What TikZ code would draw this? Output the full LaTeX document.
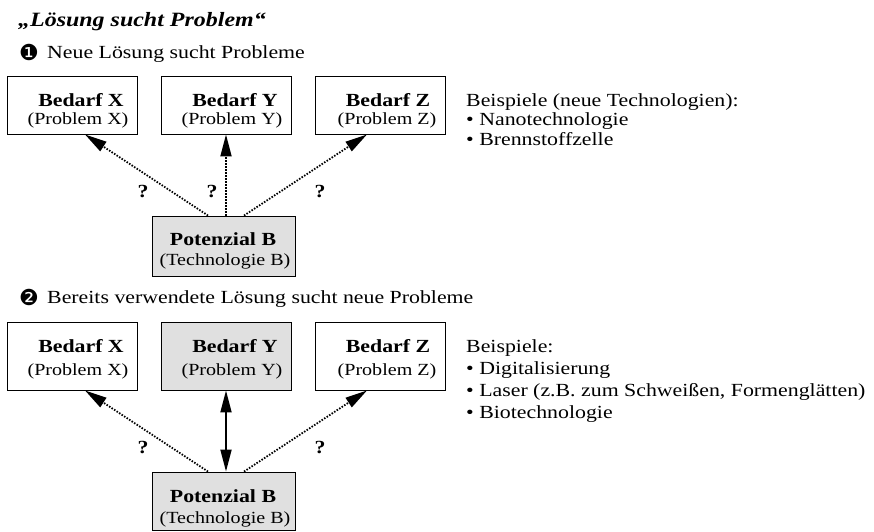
\documentclass[tikz,border=0pt]{standalone}
\usepackage{fontspec}
\setmainfont{Liberation Serif}[FakeStretch=1.18]
\newfontfamily\dingfont{DejaVu Sans}
\usetikzlibrary{arrows.meta,calc}
\definecolor{boxgray}{RGB}{224,224,224}
\newcommand\mybody{\fontsize{18.5pt}{20pt}\selectfont}
\newcommand\mysmall{\fontsize{17pt}{18pt}\selectfont}
\newcommand\mytitle{\fontsize{20.3pt}{22pt}\selectfont}
\tikzset{
  box/.style={draw=black, line width=0.9pt, minimum width=130pt, minimum height=58pt, inner sep=0pt},
  potbox/.style={box, fill=boxgray, minimum width=143pt, minimum height=60pt},
  txt/.style={inner sep=0pt, anchor=base, font=\mybody},
  btxt/.style={txt, font=\mybody\bfseries},
  stxt/.style={txt, font=\mysmall},
  ltxt/.style={txt, anchor=base west},
  qmark/.style={inner sep=0pt, anchor=center, font=\mybody\bfseries},
  num/.style={inner sep=0pt, anchor=center, font=\dingfont\fontsize{22pt}{22pt}\selectfont},
  tip/.tip={Triangle[length=22pt,width=11pt]},
  dotarrow/.style={line width=1.8pt, dash pattern=on 1.5pt off 1.5pt, -tip},
  solidarrow/.style={line width=1.8pt, tip-tip}
}
\begin{document}
\begin{tikzpicture}[x=1pt,y=-1pt]
\fill[white] (0,0) rectangle (874,531);
\useasboundingbox (0,0) rectangle (874,531);

% heading
\node[ltxt, font=\mytitle\bfseries\itshape] (title) at (18,26) {„Lösung sucht Problem“};

% ---- part 1: new solution looks for problems
\node[num] (n1) at (29,52) {❶};
\node[ltxt] (h1) at (47,58) {Neue Lösung sucht Probleme};

\node[box] (bx1) at (72,105) {};
\node[box] (bx2) at (226,105) {};
\node[box] (bx3) at (380,105) {};
\node[btxt] (bx1a) at (81,106) {Bedarf X};
\node[stxt] (bx1b) at (78,124.5) {(Problem X)};
\node[btxt] (bx2a) at (235,106) {Bedarf Y};
\node[stxt] (bx2b) at (232,124.5) {(Problem Y)};
\node[btxt] (bx3a) at (388,106) {Bedarf Z};
\node[stxt] (bx3b) at (387,124.5) {(Problem Z)};

\node[potbox] (pot1) at (223.5,246) {};
\node[btxt] (pot1a) at (223,245) {Potenzial B};
\node[stxt] (pot1b) at (225,265) {(Technologie B)};

\draw[dotarrow] ($(bx2.south |- pot1.north)+(-18,0)$) -- ($(bx1.south)+(13,0)$);
\draw[dotarrow] (bx2.south |- pot1.north) -- (bx2.south);
\draw[dotarrow] ($(bx2.south |- pot1.north)+(18,0)$) -- ($(bx3.south)+(-13,0)$);

\node[qmark] (q1) at (143,191) {?};
\node[qmark] (q2) at (212,191) {?};
\node[qmark] (q3) at (320,191) {?};

\node[ltxt] (r1a) at (466,106) {Beispiele (neue Technologien):};
\node[ltxt] (r1b) at (466,125.5) {• Nanotechnologie};
\node[ltxt] (r1c) at (466,145) {• Brennstoffzelle};

% ---- part 2: solution already in use looks for new problems
\node[num] (n2) at (29,297) {❷};
\node[ltxt] (h2) at (47,303) {Bereits verwendete Lösung sucht neue Probleme};

\node[box, minimum height=68pt] (cx1) at (72,356) {};
\node[box, minimum height=68pt, fill=boxgray] (cx2) at (226,356) {};
\node[box, minimum height=68pt] (cx3) at (380,356) {};
\node[btxt] (cx1a) at (81,352) {Bedarf X};
\node[stxt] (cx1b) at (78,375) {(Problem X)};
\node[btxt] (cx2a) at (235,352) {Bedarf Y};
\node[stxt] (cx2b) at (232,375) {(Problem Y)};
\node[btxt] (cx3a) at (388,352) {Bedarf Z};
\node[stxt] (cx3b) at (387,375) {(Problem Z)};

\node[potbox, minimum height=58pt] (pot2) at (223.5,501) {};
\node[btxt] (pot2a) at (223,502) {Potenzial B};
\node[stxt] (pot2b) at (225,523) {(Technologie B)};

\draw[dotarrow] ($(cx2.south |- pot2.north)+(-18,0)$) -- ($(cx1.south)+(13,0)$);
\draw[solidarrow] (cx2.south |- pot2.north) -- (cx2.south);
\draw[dotarrow] ($(cx2.south |- pot2.north)+(18,0)$) -- ($(cx3.south)+(-13,0)$);

\node[qmark] (q4) at (143,447) {?};
\node[qmark] (q5) at (320,447) {?};

\node[ltxt] (r2a) at (466,352) {Beispiele:};
\node[ltxt] (r2b) at (466,374) {• Digitalisierung};
\node[ltxt] (r2c) at (466,396) {• Laser (z.B. zum Schweißen, Formenglätten)};
\node[ltxt] (r2d) at (466,418) {• Biotechnologie};
\end{tikzpicture}
\end{document}
